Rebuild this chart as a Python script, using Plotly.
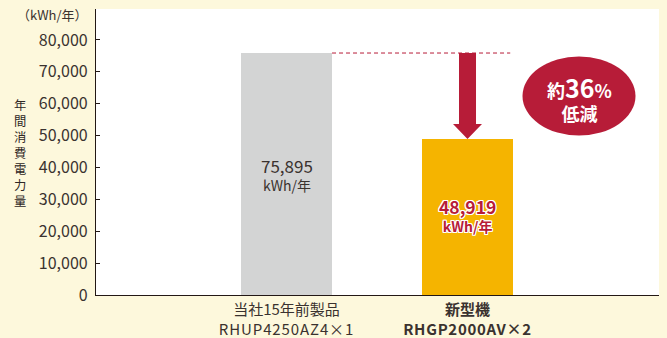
import plotly.graph_objects as go

# Annual power consumption (kWh/year)
categories = [
    "当社15年前製品<br><span style='letter-spacing:0.9px'>RHUP4250AZ4×1</span>",
    "<b>新型機</b><br><b><span style='letter-spacing:0.7px'>RHGP2000AV×2</span></b>",
]
values = [75895, 48919]
bar_colors = ["#d3d4d4", "#f5b400"]
tick_vals = [0, 10000, 20000, 30000, 40000, 50000, 60000, 70000, 80000]
tick_text = ["0", "10,000", "20,000", "30,000", "40,000", "50,000", "60,000", "70,000", "80,000"]
y_title = "年間消費電力量"

RED = "#b71c38"
TEXT = "#3a322f"
BG = "#fdf8dc"
FONT = "Noto Sans CJK JP"

xpos = [1, 2]
bar_w = 0.503
reduction = (values[0] - values[1]) / values[0] * 100

fig = go.Figure()
fig.add_trace(go.Bar(
    x=xpos, y=values, width=bar_w,
    marker=dict(color=bar_colors, line=dict(width=0)),
    hoverinfo="skip", showlegend=False,
))

W, H = 667, 338
ml, mr, mt, mb = 96, 8, 9, 43
pw, ph = W - ml - mr, H - mt - mb
ymax = 89700

fig.update_layout(
    width=W, height=H,
    margin=dict(l=ml, r=mr, t=mt, b=mb),
    paper_bgcolor=BG, plot_bgcolor="#ffffff",
    font=dict(family=FONT, color=TEXT),
    bargap=0,
    xaxis=dict(
        range=[-0.0525, 3.058], tickvals=xpos, ticktext=categories,
        showgrid=False, zeroline=False, showline=True, linecolor="#231815", linewidth=1.2,
        ticks="", tickfont=dict(size=15, color=TEXT, family=FONT), ticklabelstandoff=1,
        fixedrange=True, automargin=False,
    ),
    yaxis=dict(
        range=[0, ymax], tickvals=tick_vals, ticktext=tick_text,
        showgrid=False, zeroline=False, showline=True, linecolor="#231815", linewidth=1.2,
        ticks="inside", ticklen=4, tickcolor="#231815",
        tickfont=dict(size=16, color=TEXT, family=FONT), ticklabelstandoff=4,
        fixedrange=True, automargin=False,
    ),
)


def px_x(px):
    return (px - ml) / pw


def px_y(py):
    return (H - mb - py) / ph


# unit label above the y axis
fig.add_annotation(
    xref="paper", yref="paper", x=px_x(90), y=px_y(15), xanchor="right", yanchor="middle",
    text="（kWh/年）", showarrow=False, font=dict(size=13, color=TEXT, family=FONT),
)

# vertical y-axis title, stacked one character per line
fig.add_annotation(
    xref="paper", yref="paper", x=px_x(20), y=px_y(153),
    xanchor="center", yanchor="middle", text="<br>".join(y_title), showarrow=False,
    font=dict(size=12.3, color="#2e2725", family=FONT),
)

# value labels inside the bars
fig.add_annotation(
    x=xpos[0], y=values[0] * 0.5,
    text=f"<span style='font-size:17px'>{values[0]:,}</span><br>kWh/年", showarrow=False,
    font=dict(size=14, color=TEXT, family=FONT),
)
outline = ("1px 0 0 #fff, -1px 0 0 #fff, 0 1px 0 #fff, 0 -1px 0 #fff, "
           "1px 1px 0 #fff, -1px -1px 0 #fff, 1px -1px 0 #fff, -1px 1px 0 #fff")
fig.add_annotation(
    x=xpos[1], y=values[1] * 0.51,
    text=f"<b><span style='font-size:17.5px'>{values[1]:,}</span><br>kWh/年</b>", showarrow=False,
    font=dict(size=14, color=RED, family=FONT, shadow=outline),
)

# dashed reference line at the old consumption level
fig.add_shape(
    type="line", x0=xpos[0] + bar_w / 2, x1=xpos[1] + 0.236, y0=values[0], y1=values[0],
    line=dict(color=RED, width=1, dash="4px,3px"),
)

# downward arrow from the old level to the new one
shaft_half = 0.047
head_half = 0.08
head_len = 4700
top, tip = values[0], values[1]
cx = xpos[1]
path = (
    f"M {cx - shaft_half},{top} L {cx + shaft_half},{top} "
    f"L {cx + shaft_half},{tip + head_len} L {cx + head_half},{tip + head_len} "
    f"L {cx},{tip} L {cx - head_half},{tip + head_len} "
    f"L {cx - shaft_half},{tip + head_len} Z"
)
fig.add_shape(type="path", path=path, fillcolor=RED, line=dict(width=0))

# reduction badge
ecx, ecy, ew, eh = 579, 96, 113, 79
fig.add_shape(
    type="circle", xref="paper", yref="paper",
    x0=px_x(ecx - ew / 2), x1=px_x(ecx + ew / 2),
    y0=px_y(ecy + eh / 2), y1=px_y(ecy - eh / 2),
    fillcolor=RED, line=dict(width=0),
)
fig.add_annotation(
    xref="paper", yref="paper", x=px_x(ecx), y=px_y(98),
    xanchor="center", yanchor="middle",
    text=f"<b>約<span style='font-size:25px'>{reduction:.0f}</span>%<br>低減</b>",
    showarrow=False,
    font=dict(size=18, color="#ffffff", family=FONT),
)

fig.write_html("out.html")
